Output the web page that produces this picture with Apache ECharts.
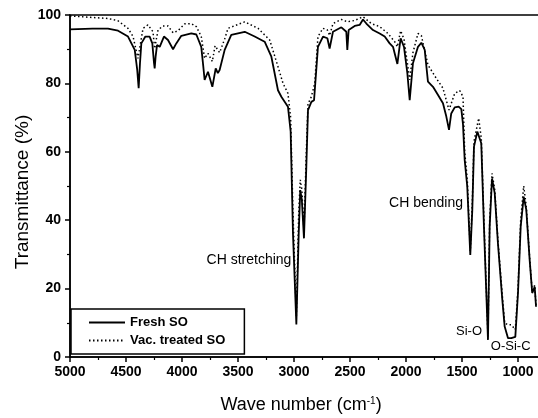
<!DOCTYPE html>
<html>
<head>
<meta charset="utf-8">
<script src="https://cdn.jsdelivr.net/npm/echarts@6/dist/echarts.min.js"></script>
<style>
  html, body { margin: 0; padding: 0; background: #fff; }
  #chart { width: 538px; height: 418px; }
</style>
</head>
<body>
<div id="chart"></div>
<script>
// wave numbers (cm-1) and transmittance (%)
const freshWn = [5000, 4800, 4661, 4571, 4482, 4422, 4400, 4387, 4375, 4363, 4327, 4289, 4265, 4250, 4244, 4235, 4223, 4199, 4161, 4125, 4080, 4051, 4006, 3917, 3872, 3828, 3810, 3798, 3768, 3729, 3699, 3680, 3664, 3619, 3560, 3440, 3351, 3262, 3202, 3143, 3113, 3054, 3030, 3009, 2979, 2958, 2944, 2930, 2911, 2890, 2875, 2845, 2821, 2786, 2741, 2702, 2682, 2652, 2577, 2533, 2524, 2512, 2458, 2414, 2384, 2354, 2295, 2235, 2190, 2146, 2116, 2077, 2048, 2018, 1988, 1967, 1938, 1893, 1863, 1833, 1804, 1759, 1714, 1670, 1640, 1616, 1596, 1565, 1530, 1506, 1491, 1476, 1453, 1426, 1408, 1393, 1363, 1351, 1328, 1304, 1283, 1268, 1253, 1232, 1208, 1179, 1140, 1119, 1089, 1060, 1024, 1000, 976, 949, 926, 896, 873, 851, 839]
const freshT = [95.8, 96, 96, 95.4, 93.7, 89.8, 84, 78.6, 86, 91.7, 93.7, 93.7, 91.7, 86, 84.4, 88, 91.2, 90.7, 93.7, 92.7, 90, 91.7, 93.9, 94.6, 94.3, 90.7, 85, 81, 83.4, 79, 84.4, 83, 83.9, 89.8, 94.2, 95.1, 93.7, 92.2, 87.8, 78, 76.1, 73.2, 66, 36, 9.5, 36, 48.8, 46, 34.7, 55.6, 72.2, 74.6, 75.1, 90.7, 93.7, 93.2, 90.2, 95.1, 96.4, 95.1, 89.8, 95.6, 96.8, 97.1, 98.7, 97.5, 95.6, 94.6, 93.7, 91.7, 90.7, 85.7, 93.2, 90.7, 83, 75.1, 85.9, 90.7, 91.9, 89.8, 80.5, 79, 76.6, 74.2, 70.3, 66.4, 71.2, 73, 73.2, 72.5, 68, 57.6, 49.8, 29.8, 43, 61.5, 65.9, 66.2, 62.5, 38.1, 18.7, 5, 38.1, 52.2, 47.9, 33.2, 16.7, 8.9, 5.5, 5.5, 5.9, 18.7, 38.1, 46.9, 43, 28.4, 18.7, 20.5, 14.7]

const vacWn = [5000, 4661, 4571, 4482, 4437, 4393, 4348, 4304, 4259, 4244, 4214, 4170, 4125, 4080, 4036, 3976, 3917, 3872, 3828, 3798, 3768, 3729, 3705, 3664, 3619, 3589, 3440, 3321, 3217, 3143, 3098, 3054, 3030, 3009, 2979, 2958, 2944, 2930, 2911, 2890, 2875, 2845, 2815, 2786, 2741, 2702, 2682, 2652, 2577, 2524, 2458, 2384, 2310, 2235, 2161, 2101, 2077, 2048, 2018, 1967, 1938, 1893, 1863, 1804, 1730, 1670, 1616, 1565, 1520, 1491, 1476, 1453, 1426, 1408, 1393, 1351, 1328, 1304, 1283, 1268, 1253, 1232, 1208, 1179, 1140, 1119, 1089, 1060, 1024, 1000, 976, 949, 926, 896, 873, 851, 839]
const vacT = [99.7, 99, 98.3, 96.1, 93.7, 87.3, 96.1, 97.1, 95.1, 90.2, 95.6, 96.8, 96.8, 94.8, 95.4, 97.4, 97.5, 96.6, 93.7, 87.3, 88.8, 86.4, 91, 89, 93, 96.1, 98, 96.1, 92.7, 84.9, 80, 77.1, 70, 42, 12, 42, 51.8, 49, 37, 60, 74, 76.1, 80, 93.7, 96.1, 95.6, 94, 97.5, 98.7, 98, 98.4, 99.5, 97.5, 96.6, 94.6, 92.2, 90.7, 95.4, 93, 81, 89, 94.6, 94, 85.4, 81.5, 78.6, 72.2, 77.1, 77.9, 76.1, 60, 52, 31, 45, 63, 69.8, 64, 40, 20, 6, 40, 53.7, 49, 34, 18, 10, 9.4, 9.4, 8, 20, 40, 50, 44, 29, 19, 21, 15]

// band labels placed in data coordinates
const bandNames = ['CH stretching', 'CH bending', 'Si-O', 'O-Si-C']
const bandWn = [3402, 1821, 1437, 1065]
const bandT = [28.4, 45, 7.4, 3]
const bandSize = [14, 14, 13, 13]

const seriesNames = ['Fresh SO', 'Vac. treated SO']

const font = 'Liberation Sans, Arial, sans-serif'
const zip = (xs, ys) => xs.map((x, i) => [x, ys[i]])

const chart = echarts.init(document.getElementById('chart'))
chart.setOption({
  animation: false,
  backgroundColor: '#fff',
  textStyle: { fontFamily: font, color: '#000' },
  grid: {
    left: 70, top: 15, height: 342, width: 504,
    outerBoundsMode: 'none',
    containLabel: false,
    show: true, borderColor: '#000', borderWidth: 1.5
  },
  legend: {
    data: seriesNames,
    orient: 'vertical',
    left: 71, top: 309,
    padding: [7, 19, 7, 17],
    itemWidth: 36, itemHeight: 12, itemGap: 5,
    itemStyle: { opacity: 0 },
    borderColor: '#000', borderWidth: 1.5,
    backgroundColor: '#fff',
    textStyle: { fontFamily: font, fontSize: 13, fontWeight: 'bold', color: '#000' }
  },
  xAxis: {
    type: 'value',
    inverse: true,
    min: 500, max: 5000, interval: 500,
    name: 'Wave number (cm{sup|-1})',
    nameLocation: 'middle',
    nameGap: 39,
    nameTextStyle: {
      fontSize: 18, color: '#000', fontFamily: font,
      padding: [0, 42, 0, 0],
      rich: { sup: { fontSize: 10, verticalAlign: 'top', padding: [0, 0, 9, 0], fontFamily: font } }
    },
    axisLine: { lineStyle: { color: '#000', width: 1.5 } },
    axisTick: { show: true, inside: false, length: 5, lineStyle: { color: '#000', width: 1.5 } },
    minorTick: { show: true, splitNumber: 2, length: 3, lineStyle: { color: '#000', width: 1.2 } },
    axisLabel: { fontSize: 14, fontWeight: 'bold', color: '#000', margin: 8, fontFamily: font, formatter: v => String(v) },
    splitLine: { show: false }
  },
  yAxis: {
    type: 'value',
    min: 0, max: 100, interval: 20,
    name: 'Transmittance (%)',
    nameLocation: 'middle',
    nameGap: 38,
    nameMoveOverlap: false,
    nameTextStyle: { fontSize: 19, color: '#000', fontFamily: font, padding: [0, 12, 0, 0] },
    axisLine: { show: true, lineStyle: { color: '#000', width: 1.5 } },
    axisTick: { show: true, inside: false, length: 5, lineStyle: { color: '#000', width: 1.5 } },
    minorTick: { show: true, splitNumber: 2, length: 3, lineStyle: { color: '#000', width: 1.2 } },
    axisLabel: { fontSize: 14, fontWeight: 'bold', color: '#000', margin: 9, fontFamily: font },
    splitLine: { show: false }
  },
  series: [
    {
      name: seriesNames[0],
      type: 'line',
      data: zip(freshWn, freshT),
      symbol: 'none',
      lineStyle: { color: '#000', width: 1.8 },
      itemStyle: { color: '#000' },
      z: 3
    },
    {
      name: seriesNames[1],
      type: 'line',
      data: zip(vacWn, vacT),
      symbol: 'none',
      lineStyle: { color: '#000', width: 1.5, type: [1.5, 2.5] },
      itemStyle: { color: '#000' },
      z: 2
    },
    {
      name: 'bands',
      type: 'scatter',
      symbolSize: 0,
      silent: true,
      itemStyle: { opacity: 1, color: '#000' },
      data: bandNames.map((n, i) => ({
        name: n,
        value: [bandWn[i], bandT[i]],
        label: { fontSize: bandSize[i] }
      })),
      label: {
        show: true, position: 'inside', formatter: '{b}',
        fontSize: 13, color: '#000', opacity: 1, fontFamily: font
      },
      z: 5
    }
  ]
})
</script>
</body>
</html>
